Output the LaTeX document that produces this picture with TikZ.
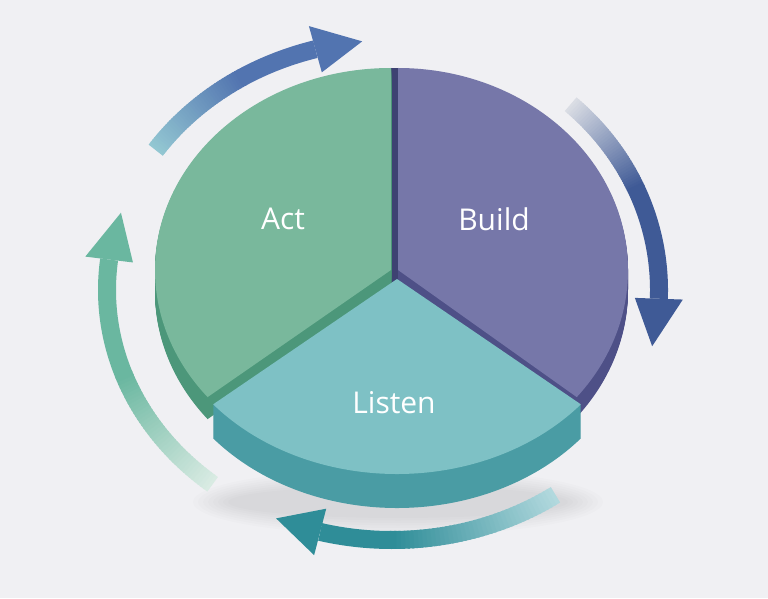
\documentclass[tikz,border=0pt]{standalone}
\usepackage{fontspec}
\setmainfont{Open Sans}
\usetikzlibrary{calc}
\definecolor{bg}{HTML}{F0F0F3}
\definecolor{acttop}{HTML}{79B89C}
\definecolor{actside}{HTML}{4C977A}
\definecolor{buildtop}{HTML}{7677A9}
\definecolor{buildside}{HTML}{4E5087}
\definecolor{listentop}{HTML}{7EC1C5}
\definecolor{listenside}{HTML}{4A9CA4}
\definecolor{gapdark}{HTML}{3E4272}
\definecolor{aOneT}{HTML}{93C7D2}
\definecolor{aOneH}{HTML}{5274B0}
\definecolor{aTwoT}{HTML}{DADDE4}
\definecolor{aTwoH}{HTML}{3F5A96}
\definecolor{aThreeT}{HTML}{B2D9DE}
\definecolor{aThreeH}{HTML}{2F8D98}
\definecolor{aFourT}{HTML}{D9EBE3}
\definecolor{aFourH}{HTML}{6AB7A0}
\newcommand\slicefill[8]{\fill[#1,shift={(0,#2)}] (#3,#4) -- ++(#7:#5 and #6) arc[start angle=#7,end angle=#8,x radius=#5,y radius=#6] -- cycle;}
% rx ry start fadeend base tip tailcolor headcolor
\newcommand\gradarrow[8]{%
  \pgfmathsetmacro\rxo{#1+24}\pgfmathsetmacro\ryo{#2+24}%
  \pgfmathsetmacro\rxi{#1-24}\pgfmathsetmacro\ryi{#2-24}%
  \foreach \i in {0,...,39}{
    \pgfmathsetmacro\angA{#3+(#4-#3)*\i/40}
    \pgfmathsetmacro\angB{#3+(#4-#3)*(\i+1.5)/40}
    \pgfmathsetmacro\pp{100*\i/39}
    \draw[line width=18pt,color=#8!\pp!#7] (\angA:#1 and #2) arc[start angle=\angA,end angle=\angB,x radius=#1,y radius=#2];
  }
  \draw[line width=18pt,color=#8] (#4:#1 and #2) arc[start angle=#4,end angle=#5,x radius=#1,y radius=#2];
  \fill[#8] (#5:\rxo\space and \ryo) -- (#6:#1 and #2) -- (#5:\rxi\space and \ryi) -- cycle;
}
\begin{document}
\begin{tikzpicture}[x=1pt,y=1pt,
  lbl/.style={text=white,font=\fontsize{30}{36}\selectfont,inner sep=0pt}]
\useasboundingbox (0,0) rectangle (768,598);
\fill[bg] (0,0) rectangle (768,598);
% soft shadow under pie
\foreach \k in {0,...,7}{
  \fill[black,opacity=0.012] (398,96) ellipse[x radius={170+5*\k}, y radius={16+2.5*\k}];
}
% arrows
\begin{scope}[shift={(392,308)}]
  \gradarrow{285}{250}{146}{122}{105.6}{96}{aOneT}{aOneH}
  \gradarrow{267}{250}{48}{24}{-2}{-13}{aTwoT}{aTwoH}
  \gradarrow{285}{250}{-55}{-90}{-104.6}{-114}{aThreeT}{aThreeH}
  \gradarrow{285}{250}{231}{200}{173}{162}{aFourT}{aFourH}
\end{scope}
% gap between Act and Build
\fill[gapdark] (390,300) rectangle (399,530);
% Act
\foreach \d in {1,...,22}{\slicefill{actside}{-\d}{391}{328}{236}{202}{90}{219}}
\slicefill{acttop}{0}{391}{328}{236}{202}{90}{219}
% Build
\foreach \d in {1,...,20}{\slicefill{buildside}{-\d}{398}{328}{230}{202}{-39}{90}}
\slicefill{buildtop}{0}{398}{328}{230}{202}{-39}{90}
% Listen
\foreach \d in {1,...,34}{\slicefill{listenside}{-\d}{397}{319}{240}{195}{220}{320}}
\slicefill{listentop}{0}{397}{319}{240}{195}{220}{320}
% labels
\node[lbl] (act) at (283,379) {Act};
\node[lbl] (build) at (494,379) {Build};
\node[lbl] (listen) at (394,195) {Listen};
\end{tikzpicture}
\end{document}
